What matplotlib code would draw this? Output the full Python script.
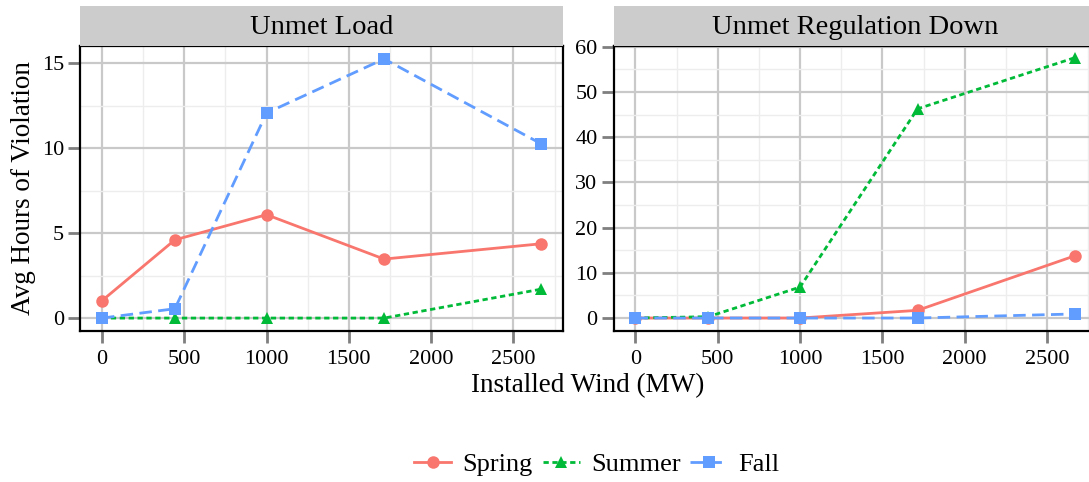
import matplotlib
matplotlib.use("Agg")
import matplotlib.pyplot as plt
from matplotlib.lines import Line2D

plt.rcParams['font.family'] = ['Liberation Serif', 'DejaVu Serif']

wind = [0, 443, 1000, 1714, 2668]
panels = ["Unmet Load", "Unmet Regulation Down"]
seasons = ["Spring", "Summer", "Fall"]

load_spring = [1.02, 4.6, 6.08, 3.47, 4.37]
load_summer = [0.0, 0.0, 0.0, 0.0, 1.7]
load_fall = [0.0, 0.55, 12.06, 15.24, 10.25]

reg_spring = [0.0, 0.0, 0.0, 1.7, 13.75]
reg_summer = [0.0, 0.3, 6.85, 46.3, 57.6]
reg_fall = [0.0, 0.0, 0.0, 0.0, 0.9]

yticks_load = [0, 5, 10, 15]
yticks_reg = [0, 10, 20, 30, 40, 50, 60]
xticks = [0, 500, 1000, 1500, 2000, 2500]

colors = {"Spring": "#F8766D", "Summer": "#00BA38", "Fall": "#619CFF"}
markers = {"Spring": "o", "Summer": "^", "Fall": "s"}
msizes = {"Spring": 9, "Summer": 9, "Fall": 8}
styles = {"Spring": "-", "Summer": (0, (1.9, 1.3)), "Fall": (0, (4.5, 2.3))}
LW = 2.0

W, H = 1089, 482
fig = plt.figure(figsize=(W / 100, H / 100), dpi=100)

def px(x0, y0, x1, y1):
    return [x0 / W, 1 - y1 / H, (x1 - x0) / W, (y1 - y0) / H]

XL = (-133.4, 2801)
specs = [
    (px(80, 46, 563, 331), XL, (-0.76, 16.0), yticks_load,
     {"Spring": load_spring, "Summer": load_summer, "Fall": load_fall}, 2.5),
    (px(613.5, 46, 1096.5, 331), XL, (-2.87, 60.2), yticks_reg,
     {"Spring": reg_spring, "Summer": reg_summer, "Fall": reg_fall}, 5),
]

for i, (pos, xl, yl, yt, data, ystep) in enumerate(specs):
    ax = fig.add_axes(pos)
    ax.set_xticks(xticks)
    ax.set_yticks(yt)
    ax.set_xticks([250, 750, 1250, 1750, 2250, 2750], minor=True)
    ax.set_yticks([v + ystep for v in yt], minor=True)
    ax.grid(which="major", color="#C9C9C9", linewidth=1.6, zorder=0)
    ax.grid(which="minor", color="#EDEDED", linewidth=1.0, zorder=0)
    ax.set_axisbelow(True)
    ax.tick_params(which="major", length=8.5, width=2.0, color="#7F7F7F",
                   labelsize=16, pad=3, labelcolor="black")
    ax.tick_params(axis="x", which="major", pad=5)
    ax.tick_params(which="minor", length=0)
    for s in ax.spines.values():
        s.set_color("black")
        s.set_linewidth(1.6)
    for sname in seasons:
        ax.plot(wind, data[sname], color=colors[sname], linestyle=styles[sname],
                linewidth=LW, marker=markers[sname], markersize=msizes[sname],
                markeredgewidth=0, zorder=3, clip_on=False)
    ax.set_xlim(*xl)
    ax.set_ylim(*yl)
    # strip
    sax = fig.add_axes([pos[0], 1 - 46 / H, pos[2], 40 / H])
    sax.set_facecolor("#CCCCCC")
    sax.set_xticks([]); sax.set_yticks([])
    for s in sax.spines.values():
        s.set_visible(False)
    sax.text(0.5, 0.47, panels[i], ha="center", va="center", fontsize=20.5,
             transform=sax.transAxes)
    if i == 0:
        ax.set_ylabel("Avg Hours of Violation", fontsize=19.5, labelpad=4)

fig.text(588 / W, 1 - 386 / H, "Installed Wind (MW)", ha="center", va="center",
         fontsize=19.5)

handles = [Line2D([0], [0], color=colors[s], linestyle=styles[s], linewidth=LW,
                  marker=markers[s], markersize=msizes[s], markeredgewidth=0)
           for s in seasons]
fig.legend(handles, seasons, loc="center", bbox_to_anchor=(597 / W, 1 - 464 / H),
           ncol=3, frameon=False, fontsize=19, handlelength=1.4,
           handletextpad=0.42, columnspacing=0.38, borderaxespad=0, borderpad=0)

fig.savefig("out.png", dpi=100)
